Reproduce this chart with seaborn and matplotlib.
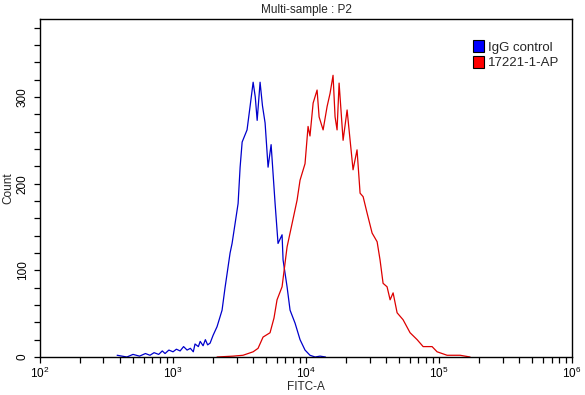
import numpy as np
import pandas as pd
import matplotlib
matplotlib.use("Agg")
import matplotlib.pyplot as plt
import matplotlib.ticker as mticker
from matplotlib.patches import Patch
import seaborn as sns

# du lieu doc tu hinh (FITC-A, Count)
igg_x = [380, 450, 500, 560, 620, 671, 720, 780, 830, 871, 930, 1000, 1060, 1130, 1200,
         1275, 1350, 1420, 1463, 1550, 1600, 1682, 1750, 1820, 1899, 2000, 2142, 2336,
         2460, 2684, 2778, 2927, 3083, 3193, 3307, 3450, 3600, 3793, 4000, 4150, 4289,
         4511, 4700, 4920, 5180, 5460, 5850, 6155, 6600, 6716, 7197, 7580, 8267, 9010,
         9820, 10700, 11690, 12740, 14000]
igg_y = [2, 0, 3, 1, 4, 2, 5, 3, 7, 4, 8, 6, 9, 7, 12,
         8, 10, 6, 15, 12, 18, 13, 20, 14, 16, 25, 35, 54,
         80, 120, 131, 154, 177, 219, 248, 255, 262, 289, 317, 300, 273,
         317, 290, 270, 219, 245, 177, 131, 141, 112, 81, 54, 39, 20,
         8, 2, 0, 1, 0]

ap_x = [2142, 2825, 3357, 4000, 4355, 4750, 5360, 5740, 6050, 6600, 7197, 7850, 8560,
        9010, 9820, 10350, 10700, 11300, 12100, 12530, 13430, 14390, 15140, 15950,
        16520, 17100, 17710, 18980, 20340, 21050, 22550, 24160, 25470, 26840, 28760,
        31360, 34200, 35980, 37920, 40630, 42830, 45110, 48340, 53600, 60500, 68370,
        75860, 88540, 96600, 114900, 143900, 171000]
ap_y = [0, 1, 2, 6, 10, 23, 28, 45, 66, 81, 127, 154, 181,
        204, 223, 266, 255, 293, 308, 277, 262, 289, 304, 325,
        277, 262, 316, 250, 285, 262, 216, 239, 189, 185, 166,
        143, 133, 112, 85, 81, 66, 74, 51, 43, 28, 20,
        12, 12, 6, 2, 2, 0]

labels = ["IgG control", "17221-1-AP"]
colors = ["#0000cc", "#dd0000"]
legend_colors = ["#0000ff", "#ff0000"]

df = pd.concat([
    pd.DataFrame({"FITC-A": igg_x, "Count": igg_y, "sample": labels[0]}),
    pd.DataFrame({"FITC-A": ap_x, "Count": ap_y, "sample": labels[1]}),
])

sns.set_style("ticks")
plt.rcParams["font.family"] = ["Liberation Sans", "DejaVu Sans"]

fig = plt.figure(figsize=(5.85, 3.95), dpi=100)
ax = fig.add_axes([0.0684, 0.0962, 0.9096, 0.8558])

sns.lineplot(data=df, x="FITC-A", y="Count", hue="sample", palette=colors,
             sort=False, estimator=None, linewidth=0.9, legend=False, ax=ax)

ax.set_xscale("log")
ax.set_xlim(1e2, 1e6)
ax.set_ylim(0, 390)
ax.xaxis.set_major_locator(mticker.LogLocator(base=10, numticks=10))
ax.xaxis.set_minor_locator(mticker.LogLocator(base=10, subs=np.arange(2, 10), numticks=20))
ax.yaxis.set_major_locator(mticker.FixedLocator([0, 100, 200, 300]))
ax.yaxis.set_minor_locator(mticker.MultipleLocator(20))

for s in ax.spines.values():
    s.set_linewidth(1.0)
    s.set_color("black")
ax.tick_params(axis="both", which="both", direction="out", length=4.5, width=0.9,
               labelsize=8.5, colors="black")
ax.tick_params(axis="x", pad=2)
for t in ax.get_yticklabels():
    t.set_rotation(90)
    t.set_va("center")

ax.set_xlabel("FITC-A", fontsize=8.5, labelpad=0)
ax.set_ylabel("Count", fontsize=8.5, labelpad=2)
ax.set_title("Multi-sample : P2", fontsize=8.5, pad=4)

handles = [Patch(facecolor=c, edgecolor="black", linewidth=0.8) for c in legend_colors]
ax.legend(handles, labels, loc="upper right", bbox_to_anchor=(0.99, 0.96), frameon=False,
          fontsize=9.5, handlelength=0.85, handleheight=1.0, handletextpad=0.25,
          labelspacing=0.15, borderaxespad=0.2)

fig.savefig("out.png", dpi=100)
